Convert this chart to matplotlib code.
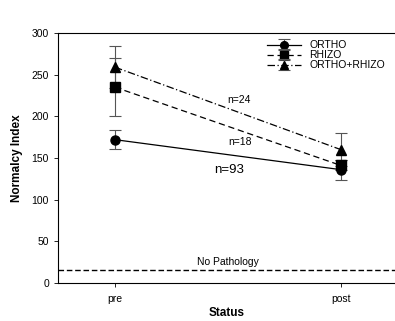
import matplotlib
matplotlib.use("Agg")
import matplotlib.pyplot as plt

plt.rcParams['font.family'] = ['Liberation Sans', 'DejaVu Sans']

status = ["pre", "post"]
ortho = [172, 136]
ortho_err = [11, 12]
rhizo = [235, 141]
rhizo_err = [35, 6]
both = [259, 160]
both_err = [25, 20]
no_pathology = 15

fig = plt.figure(figsize=(3.95, 3.21), dpi=100)
ax = fig.add_axes([0.1468, 0.1184, 0.8532, 0.7788])

x = [0, 1]
series = [
    (ortho, ortho_err, "ORTHO", "-", "o"),
    (rhizo, rhizo_err, "RHIZO", (0, (5, 3)), "s"),
    (both, both_err, "ORTHO+RHIZO", (0, (6, 2, 1, 2)), "^"),
]
for vals, errs, name, ls, mk in series:
    ax.errorbar(x, vals, yerr=errs, color="black", ecolor="#555555",
                elinewidth=0.8, capsize=4, capthick=0.8, linestyle=ls,
                linewidth=0.9, marker=mk, markersize=6.5, label=name)

ax.axhline(no_pathology, color="black", linestyle=(0, (4, 2)), linewidth=1.0)
ax.text(0.5, 19, "No Pathology", ha="center", va="bottom", fontsize=7.5)

ax.text(0.55, 220, "n=24", ha="center", va="center", fontsize=7.5)
ax.text(0.553, 169, "n=18", ha="center", va="center", fontsize=7.5)
ax.text(0.504, 135, "n=93", ha="center", va="center", fontsize=9.5)

ax.set_xlim(-0.252, 1.239)
ax.set_ylim(0, 300)
ax.set_xticks(x)
ax.set_xticklabels(status)
ax.set_yticks(range(0, 301, 50))
ax.tick_params(axis="both", labelsize=7.5, length=3, width=0.6, direction="out")
ax.tick_params(axis="x", pad=5)
ax.set_xlabel("Status", fontsize=8.5, fontweight="bold", labelpad=2)
ax.set_ylabel("Normalcy Index", fontsize=8.5, fontweight="bold", labelpad=6)

ax.spines["right"].set_visible(False)
for s in ["left", "top", "bottom"]:
    ax.spines[s].set_linewidth(0.8)

leg = ax.legend(loc="upper left", bbox_to_anchor=(0.6, 1.0), frameon=False,
                fontsize=7.5, handlelength=3.2, handletextpad=0.8,
                labelspacing=0.0, borderaxespad=0.3, markerscale=0.85)

fig.savefig("out.png", dpi=100)
